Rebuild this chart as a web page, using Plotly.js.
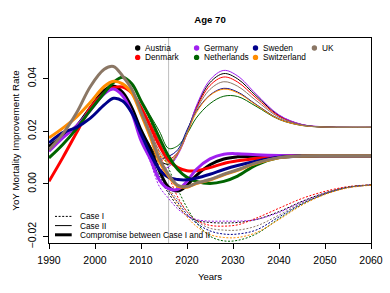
<!DOCTYPE html>
<html><head><meta charset="utf-8">
<script src="https://cdn.plot.ly/plotly-3.0.1.min.js"></script>
<style>html,body{margin:0;padding:0;background:#fff;}#chart{width:390px;height:293px;}</style>
</head><body><div id="chart"></div>
<script>
// ---------- DATA ----------
const histYears = [1990,1993,1996,1999,2002,2004,2006,2008,2010];
const projYears = [2012,2014,2016,2018,2020,2022,2025,2028,2031,2035,2040,2045,2050,2055,2060];
const lastObservedYear = 2016;

const countries = ["Austria","Denmark","Germany","Netherlands","Sweden","Switzerland","UK"];
const colors = ["#000000","#FF0000","#A020F0","#006400","#00008B","#FF8C00","#8B7765"];

const histAustria     = [0.0143,0.018,0.022,0.029,0.0355,0.0372,0.0348,0.029,0.0205];
const histDenmark     = [0.001,0.010,0.0195,0.029,0.0345,0.0365,0.0368,0.0345,0.029];
const histGermany     = [0.0124,0.0175,0.022,0.028,0.0342,0.036,0.0335,0.027,0.0165];
const histNetherlands = [0.0099,0.015,0.021,0.028,0.0345,0.0385,0.0405,0.038,0.0315];
const histSweden      = [0.0156,0.0195,0.0215,0.025,0.030,0.0325,0.0315,0.027,0.019];
const histSwitzerland = [0.0175,0.0212,0.0255,0.031,0.037,0.039,0.038,0.0345,0.0265];
const histUK          = [0.013,0.019,0.027,0.037,0.0435,0.0446,0.041,0.036,0.0275];

const caseIAustria     = [0.0125,0.002,-0.0035,-0.0085,-0.012,-0.0138,-0.0146,-0.0148,-0.0146,-0.0135,-0.0105,-0.0066,-0.0034,-0.0012,-0.0004];
const caseIDenmark     = [0.021,0.0115,0.003,-0.005,-0.0105,-0.0138,-0.0157,-0.016,-0.0155,-0.013,-0.0092,-0.0055,-0.0028,-0.001,-0.0003];
const caseIGermany     = [0.0085,-0.001,-0.0055,-0.0095,-0.012,-0.0135,-0.0141,-0.0141,-0.0141,-0.0135,-0.0108,-0.0068,-0.0035,-0.0013,-0.0004];
const caseINetherlands = [0.024,0.015,0.006,-0.002,-0.009,-0.0145,-0.0198,-0.0216,-0.0214,-0.019,-0.0132,-0.0078,-0.0038,-0.0013,-0.0004];
const caseISweden      = [0.0105,0.003,-0.0025,-0.007,-0.0115,-0.0148,-0.0178,-0.019,-0.019,-0.0175,-0.0125,-0.0075,-0.0038,-0.0013,-0.0004];
const caseISwitzerland = [0.017,0.0055,-0.002,-0.0075,-0.0125,-0.016,-0.0192,-0.0203,-0.0203,-0.0185,-0.0135,-0.008,-0.004,-0.0015,-0.0005];
const caseIUK          = [0.018,0.0065,-0.0015,-0.006,-0.0105,-0.014,-0.0168,-0.0175,-0.0175,-0.016,-0.0118,-0.0072,-0.0036,-0.0013,-0.0004];

const caseIIAustria     = [0.0145,0.009,0.0075,0.0115,0.0195,0.029,0.0385,0.0419,0.0399,0.0335,0.026,0.0225,0.0216,0.0215,0.0215];
const caseIIDenmark     = [0.023,0.016,0.0095,0.012,0.019,0.0285,0.0374,0.0406,0.0387,0.0327,0.0257,0.0225,0.0216,0.0215,0.0215];
const caseIIGermany     = [0.0105,0.0055,0.0065,0.011,0.019,0.0295,0.0395,0.0431,0.041,0.0342,0.0262,0.0226,0.0217,0.0215,0.0215];
const caseIINetherlands = [0.026,0.020,0.0135,0.0145,0.019,0.025,0.0305,0.0333,0.0332,0.0295,0.0245,0.0222,0.0216,0.0215,0.0215];
const caseIISweden      = [0.0125,0.0095,0.0105,0.013,0.0205,0.0275,0.0338,0.0363,0.0349,0.0302,0.0247,0.0223,0.0216,0.0215,0.0215];
const caseIISwitzerland = [0.019,0.0115,0.008,0.0115,0.019,0.027,0.0336,0.036,0.0346,0.030,0.0246,0.0222,0.0216,0.0215,0.0215];
const caseIIUK          = [0.020,0.0125,0.0085,0.012,0.0195,0.028,0.0359,0.0388,0.0371,0.0317,0.0253,0.0224,0.0216,0.0215,0.0215];

const compAustria     = [0.0135,0.005,-0.0012,-0.0027,-0.0005,0.0032,0.0073,0.0095,0.0103,0.0106,0.0107,0.0107,0.0107,0.0107,0.0107];
const compDenmark     = [0.022,0.0145,0.009,0.0062,0.005,0.005,0.0062,0.0078,0.0088,0.0097,0.0104,0.0107,0.0107,0.0107,0.0107];
const compGermany     = [0.0095,0.0015,-0.0018,-0.002,0.001,0.0055,0.0095,0.0113,0.0115,0.0111,0.0108,0.0107,0.0107,0.0107,0.0107];
const compNetherlands = [0.025,0.0175,0.0105,0.0055,0.0025,0.001,0.0002,0.001,0.003,0.0072,0.010,0.0106,0.0107,0.0107,0.0107];
const compSweden      = [0.0115,0.0055,0.0025,0.0017,0.0016,0.0022,0.0037,0.0055,0.007,0.0086,0.0101,0.0106,0.0107,0.0107,0.0107];
const compSwitzerland = [0.018,0.0085,0.003,-0.0008,-0.0012,0.0002,0.0015,0.0035,0.0052,0.0078,0.0099,0.0106,0.0107,0.0107,0.0107];
const compUK          = [0.019,0.0095,0.0035,-0.0005,-0.001,0.0003,0.0017,0.0037,0.0054,0.008,0.010,0.0106,0.0107,0.0107,0.0107];

const xTicks = [1990,2000,2010,2020,2030,2040,2050,2060];
const yTicks = [-0.02,0,0.02,0.04];
const caseLabels = ["Case I","Case II","Compromise between Case I and II"];
const legendOrder = ["Austria","Germany","Sweden","UK","Denmark","Netherlands","Switzerland"];

// ---------- BUILD ----------
const hist = [histAustria,histDenmark,histGermany,histNetherlands,histSweden,histSwitzerland,histUK];
const caseI = [caseIAustria,caseIDenmark,caseIGermany,caseINetherlands,caseISweden,caseISwitzerland,caseIUK];
const caseII = [caseIIAustria,caseIIDenmark,caseIIGermany,caseIINetherlands,caseIISweden,caseIISwitzerland,caseIIUK];
const comp = [compAustria,compDenmark,compGermany,compNetherlands,compSweden,compSwitzerland,compUK];
const allYears = histYears.concat(projYears);

const traces = [];
const styles = [
  {set: caseI, width: 1, dash: "2px,1.6px"},
  {set: caseII, width: 1, dash: "solid"},
  {set: comp, width: 3, dash: "solid"}
];
styles.forEach(st => {
  countries.forEach((c, i) => {
    traces.push({
      x: allYears, y: hist[i].concat(st.set[i]),
      type: "scatter", mode: "lines", name: c, showlegend: false, hoverinfo: "skip",
      line: {color: colors[i], width: st.width, dash: st.dash, shape: "spline", smoothing: 1}
    });
  });
});

// plot area in pixels
const W = 390, H = 293, L = 49, R = 371, T = 38.3, B = 243.3;
const px = x => (x - L) / (R - L);
const py = y => (B - y) / (B - T);

const shapes = [{
  type: "line", xref: "x", yref: "paper", x0: lastObservedYear, x1: lastObservedYear, y0: 0, y1: 1,
  line: {color: "#BEBEBE", width: 1}, layer: "below"
}];
const annotations = [];
const legFont = {family: "Liberation Sans, Arial, sans-serif", size: 8.3, color: "#000"};

legendOrder.forEach((name, k) => {
  const col = k % 4, row = Math.floor(k / 4);
  const cx = 137.7 + col * 58.9, cy = 48.3 + row * 9.4;
  const ci = countries.indexOf(name);
  shapes.push({type: "circle", xref: "paper", yref: "paper", xsizemode: "pixel", ysizemode: "pixel",
    xanchor: px(cx), yanchor: py(cy), x0: -2.7, x1: 2.7, y0: -2.7, y1: 2.7,
    fillcolor: colors[ci], line: {width: 0}});
  annotations.push({xref: "paper", yref: "paper", x: px(cx + 5.5), y: py(cy), xanchor: "left", yanchor: "middle",
    text: name, showarrow: false, font: legFont});
});

const caseWidths = [1, 1, 3];
const caseDash = ["2px,1.6px", "solid", "solid"];
caseLabels.forEach((lab, k) => {
  const cy = 216.7 + k * 9.2;
  shapes.push({type: "line", xref: "paper", yref: "paper", x0: px(55), x1: px(71.7), y0: py(cy), y1: py(cy),
    line: {color: "#000", width: caseWidths[k], dash: caseDash[k]}});
  annotations.push({xref: "paper", yref: "paper", x: px(77.5), y: py(cy), xanchor: "left", yanchor: "middle",
    text: lab, showarrow: false, font: legFont});
});

const font = {family: "Liberation Sans, Arial, sans-serif", color: "#000"};
const layout = {
  width: W, height: H,
  margin: {l: L, r: W - R, t: T, b: H - B, pad: 0},
  paper_bgcolor: "#fff", plot_bgcolor: "#fff",
  font: font,
  showlegend: false,
  title: {text: "<b>Age 70</b>", font: {size: 9.6, family: font.family, color: "#000"},
          xref: "paper", x: 0.5, xanchor: "center", yref: "container", y: 1 - 20/H, yanchor: "middle"},
  xaxis: {range: [1990, 2060], tickvals: xTicks, ticks: "outside", ticklen: 5, tickwidth: 1, tickcolor: "#000",
          showline: true, mirror: true, linecolor: "#000", linewidth: 1, showgrid: false, zeroline: false,
          tickfont: {size: 10.5, family: font.family, color: "#000"}, ticklabelstandoff: 2,
          title: {text: "Years", font: {size: 9.6, family: font.family, color: "#000"}, standoff: 8}},
  yaxis: {range: [-0.0224, 0.0554], tickvals: yTicks, tickformat: ".2f", ticks: "outside", ticklen: 5, tickwidth: 1,
          tickcolor: "#000", showline: true, mirror: true, linecolor: "#000", linewidth: 1, showgrid: false,
          zeroline: false, tickangle: -90, ticklabelstandoff: 3,
          tickfont: {size: 10.5, family: font.family, color: "#000"},
          title: {text: "YoY Mortality Improvement Rate", font: {size: 9.8, family: font.family, color: "#000"}, standoff: 4}},
  shapes: shapes, annotations: annotations
};
Plotly.newPlot("chart", traces, layout, {staticPlot: true, displayModeBar: false});
</script></body></html>
